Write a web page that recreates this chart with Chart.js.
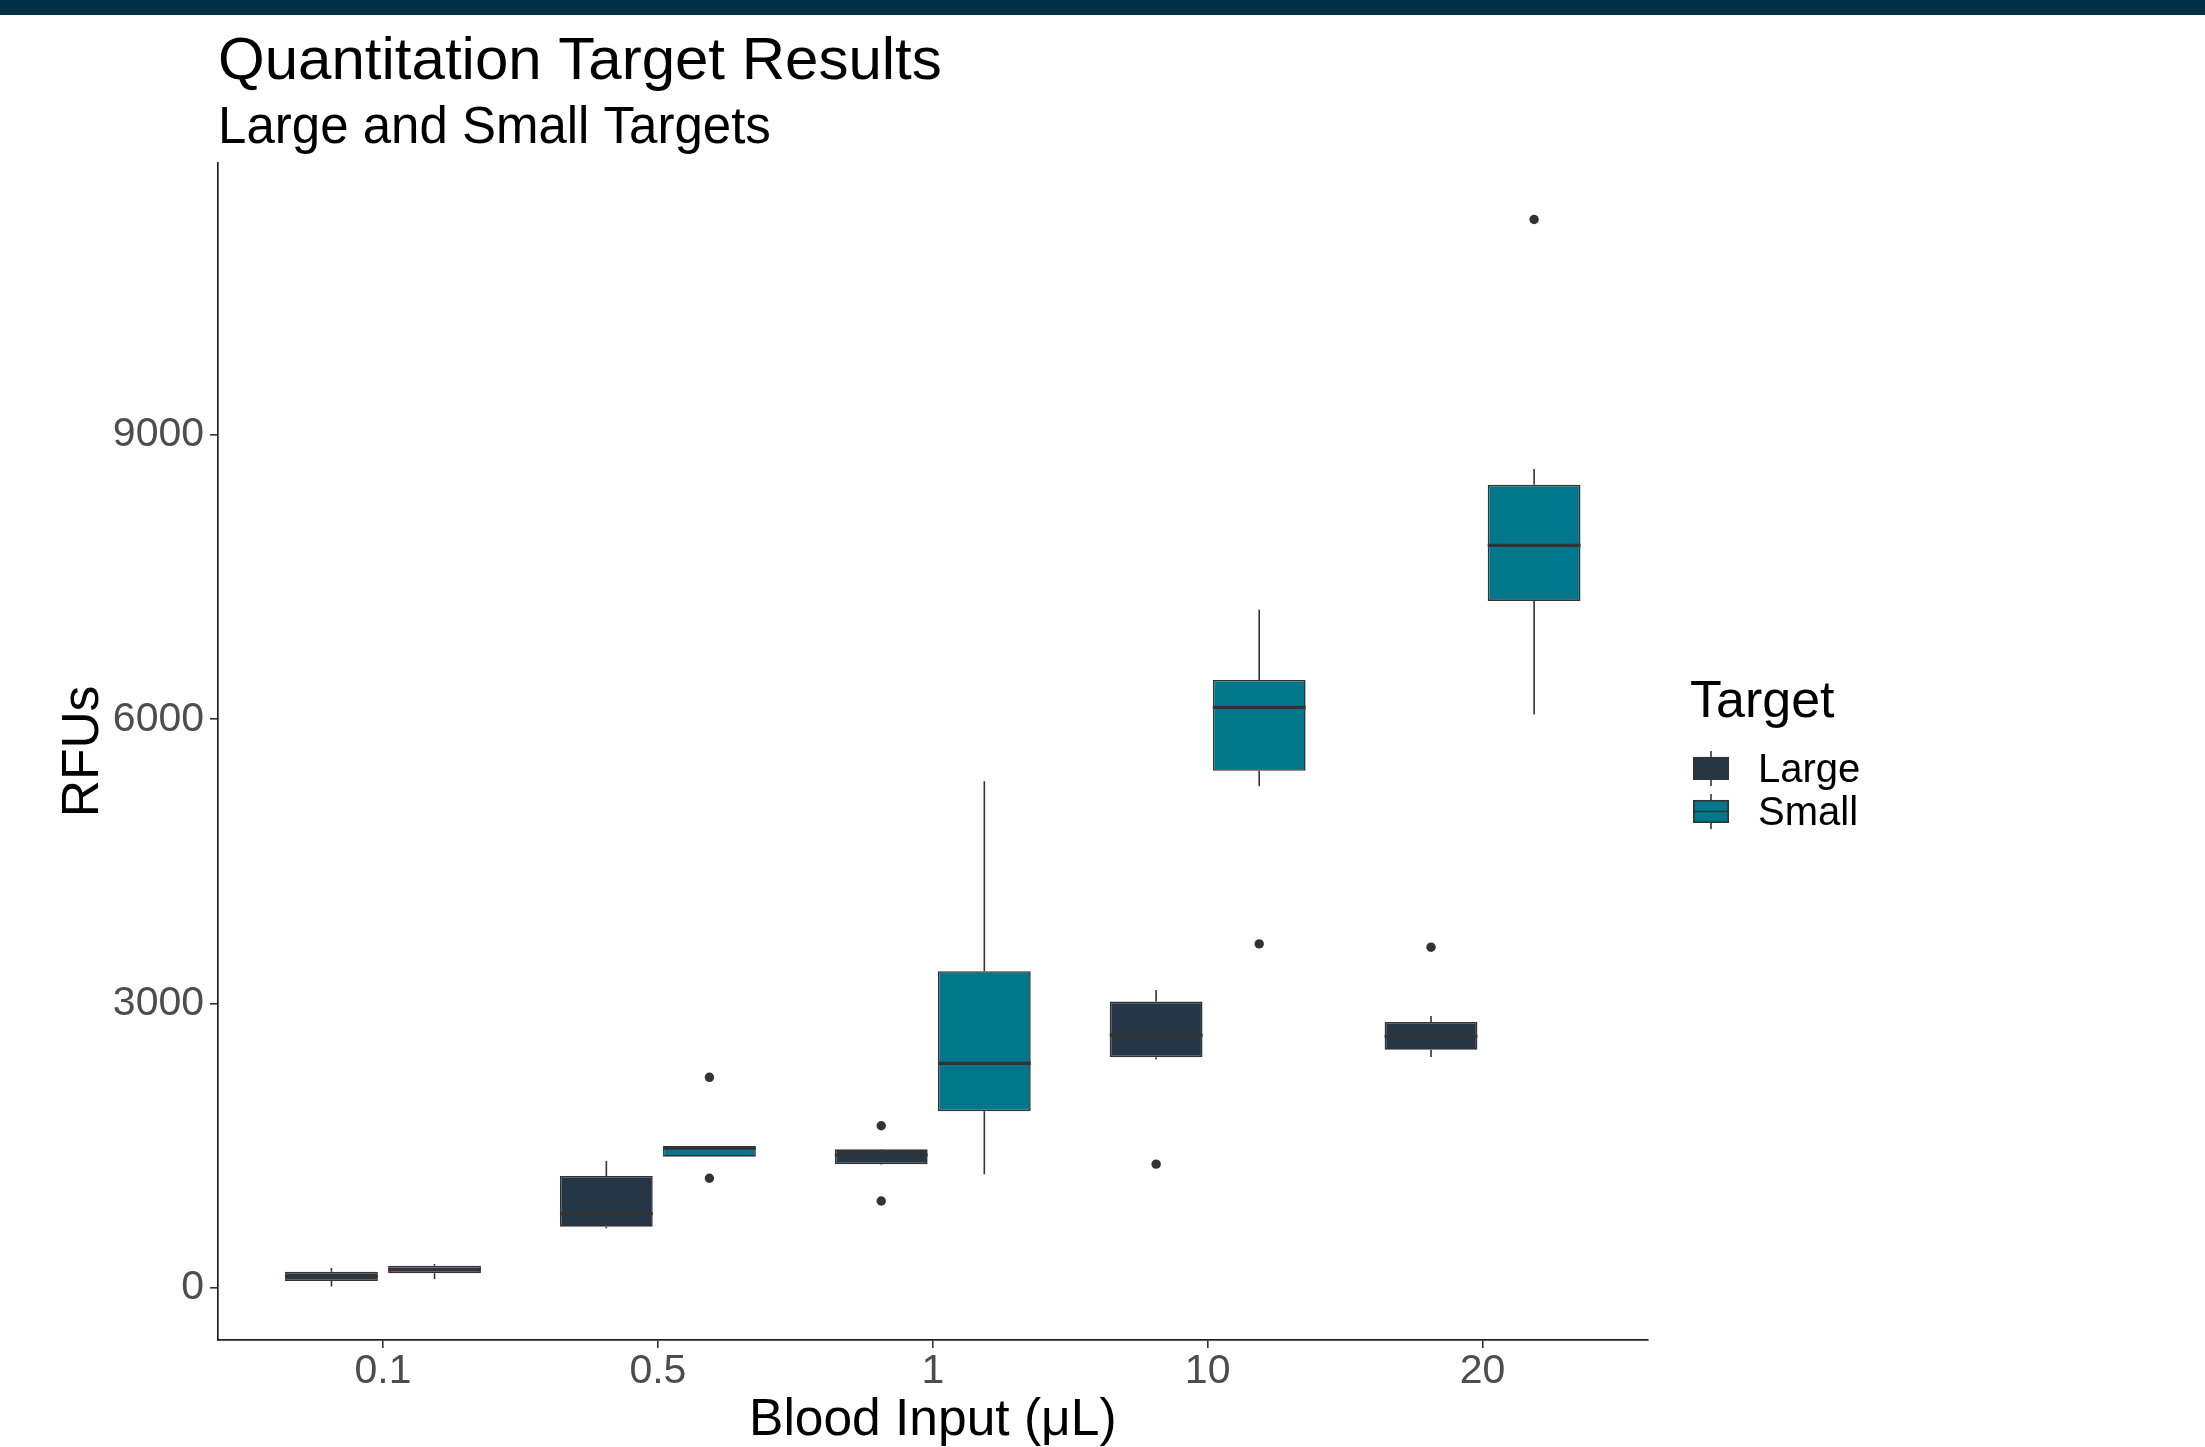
<!DOCTYPE html>
<html>
<head>
<meta charset="utf-8">
<title>Quantitation Target Results</title>
<script src="https://cdn.jsdelivr.net/npm/chart.js@4.4.1/dist/chart.umd.min.js"></script>
<style>
  html, body { margin: 0; padding: 0; background: #ffffff; overflow: hidden; }
  #wrap { position: relative; width: 2205px; height: 1447px; }
  #topbar { position: absolute; left: 0; top: 0; width: 2205px; height: 15px; background: #032f47; }
  #chart { position: absolute; left: 0; top: 0; }
</style>
</head>
<body>
<div id="wrap">
  <canvas id="chart" width="2205" height="1447"></canvas>
  <div id="topbar"></div>
</div>
<script>
// Blood input volumes (µL) on the x axis
const categories = ['0.1', '0.5', '1', '10', '20'];

// Large target: box-plot summaries (RFUs)
const largeLow      = [11, 625, 1295, 2409, 2433];
const largeQ1       = [68, 642, 1301, 2432, 2511];
const largeMedian   = [118, 779, 1399, 2664, 2652];
const largeQ3       = [165, 1177, 1459, 3019, 2803];
const largeHigh     = [205, 1336, 1462, 3141, 2866];
const largeOutliers = [[], [], [1708, 913], [1302], [3593]];

// Small target: box-plot summaries (RFUs)
const smallLow      = [90, 1381, 1196, 5293, 6051];
const smallQ1       = [150, 1381, 1862, 5455, 7249];
const smallMedian   = [188, 1470, 2366, 6125, 7835];
const smallQ3       = [230, 1494, 3339, 6414, 8475];
const smallHigh     = [248, 1494, 5346, 7155, 8643];
const smallOutliers = [[], [2219, 1153], [], [3628], [11276]];

// y-axis tick values
const yTicks = [0, 3000, 6000, 9000];

const FONT = '"Liberation Sans", Arial, Helvetica, sans-serif';
const INK = '#333333';

Chart.defaults.font.family = FONT;

function boxSeries(label, color, q1, q3, low, median, high, outliers) {
  return {
    label,
    data: categories.map((c, i) => ({ x: i, y: [q1[i], q3[i]] })),
    low, median, high, outliers,
    backgroundColor: color,
    borderColor: INK,
    borderWidth: 1.6,
    borderSkipped: false,
    categoryPercentage: 0.75,
    barPercentage: 0.9
  };
}

// whiskers, medians and outlying points drawn on top of each box
const boxplotParts = {
  id: 'boxplotParts',
  afterDatasetsDraw(chart) {
    const ctx = chart.ctx;
    const y = chart.scales.y;
    ctx.save();
    chart.data.datasets.forEach((ds, di) => {
      const meta = chart.getDatasetMeta(di);
      meta.data.forEach((bar, i) => {
        const x = bar.x;
        const half = bar.width / 2;
        const top = Math.min(bar.y, bar.base);
        const bottom = Math.max(bar.y, bar.base);
        const yHigh = y.getPixelForValue(ds.high[i]);
        const yLow = y.getPixelForValue(ds.low[i]);
        const yMed = y.getPixelForValue(ds.median[i]);

        ctx.strokeStyle = INK;
        ctx.lineWidth = 1.6;
        ctx.beginPath();
        if (yHigh < top) { ctx.moveTo(x, yHigh); ctx.lineTo(x, top); }
        if (yLow > bottom) { ctx.moveTo(x, bottom); ctx.lineTo(x, yLow); }
        ctx.stroke();

        ctx.lineWidth = 3.2;
        ctx.beginPath();
        ctx.moveTo(x - half, yMed);
        ctx.lineTo(x + half, yMed);
        ctx.stroke();

        ctx.fillStyle = INK;
        ds.outliers[i].forEach(v => {
          ctx.beginPath();
          ctx.arc(x, y.getPixelForValue(v), 4.7, 0, Math.PI * 2);
          ctx.fill();
        });
      });
    });
    ctx.restore();
  }
};

// "Target" legend with small box-plot keys, right of the panel
const targetLegend = {
  id: 'targetLegend',
  afterDraw(chart) {
    const { ctx, chartArea } = chart;
    const left = chartArea.right + 42.5;
    const mid = (chartArea.top + chartArea.bottom) / 2;
    ctx.save();
    ctx.textAlign = 'left';
    ctx.textBaseline = 'alphabetic';
    ctx.fillStyle = '#000000';
    ctx.font = '52px ' + FONT;
    ctx.fillText('Target', left, mid - 34.5);
    chart.data.datasets.forEach((ds, k) => {
      const cy = mid + 17 + k * 43;
      const kx = left + 3, kw = 36, kh = 23;
      ctx.strokeStyle = INK;
      ctx.lineWidth = 1.6;
      ctx.beginPath();
      ctx.moveTo(kx + kw / 2, cy - 17.5);
      ctx.lineTo(kx + kw / 2, cy + 17.5);
      ctx.stroke();
      ctx.fillStyle = ds.backgroundColor;
      ctx.fillRect(kx, cy - kh / 2, kw, kh);
      ctx.strokeRect(kx + 0.8, cy - kh / 2 + 0.8, kw - 1.6, kh - 1.6);
      ctx.beginPath();
      ctx.moveTo(kx, cy);
      ctx.lineTo(kx + kw, cy);
      ctx.stroke();
      ctx.fillStyle = '#000000';
      ctx.font = '40px ' + FONT;
      ctx.fillText(ds.label, left + 68, cy + 14);
    });
    ctx.restore();
  }
};

new Chart(document.getElementById('chart'), {
  type: 'bar',
  data: {
    datasets: [
      boxSeries('Large', '#253746', largeQ1, largeQ3, largeLow, largeMedian, largeHigh, largeOutliers),
      boxSeries('Small', '#00778a', smallQ1, smallQ3, smallLow, smallMedian, smallHigh, smallOutliers)
    ]
  },
  options: {
    responsive: false,
    animation: false,
    devicePixelRatio: 1,
    layout: { padding: { left: 50, top: 15, right: 557.5, bottom: 0 } },
    plugins: {
      legend: { display: false },
      tooltip: { enabled: false },
      title: {
        display: true,
        text: 'Quantitation Target Results',
        align: 'start',
        fullSize: false,
        color: '#000000',
        font: { size: 60, weight: 'normal', lineHeight: 1.2 },
        padding: { top: 11.2, bottom: 0 }
      },
      subtitle: {
        display: true,
        text: 'Large and Small Targets',
        align: 'start',
        fullSize: false,
        color: '#000000',
        font: { size: 51, weight: 'normal', lineHeight: 1.2 },
        padding: { top: 0, bottom: 3.6 }
      }
    },
    scales: {
      x: {
        type: 'linear',
        offset: false,
        min: -0.6,
        max: categories.length - 0.4,
        afterBuildTicks: scale => { scale.ticks = categories.map((c, i) => ({ value: i })); },
        ticks: {
          callback: v => categories[v],
          color: '#4d4d4d',
          font: { size: 41, lineHeight: 1.15 },
          padding: 0,
          maxRotation: 0,
          autoSkip: false
        },
        grid: { display: true, offset: false, drawOnChartArea: false, drawTicks: true, tickLength: 8, color: INK, lineWidth: 1.6 },
        border: { display: true, color: '#222222', width: 1.7 },
        title: {
          display: true,
          text: 'Blood Input (μL)',
          color: '#000000',
          font: { size: 51.5, lineHeight: 1.0 },
          padding: { top: 0.4, bottom: 0 }
        }
      },
      y: {
        type: 'linear',
        min: -554,
        max: 11873,
        afterBuildTicks: scale => { scale.ticks = yTicks.map(v => ({ value: v })); },
        ticks: {
          callback: v => String(v),
          color: '#4d4d4d',
          font: { size: 41, lineHeight: 1.2 },
          padding: 6
        },
        grid: { display: true, drawOnChartArea: false, drawTicks: true, tickLength: 8, color: INK, lineWidth: 1.6 },
        border: { display: true, color: '#222222', width: 1.7 },
        title: {
          display: true,
          text: 'RFUs',
          color: '#000000',
          font: { size: 51.5, lineHeight: 0.9 },
          padding: { top: 10.5, bottom: 0 }
        }
      }
    }
  },
  plugins: [boxplotParts, targetLegend]
});
</script>
</body>
</html>
